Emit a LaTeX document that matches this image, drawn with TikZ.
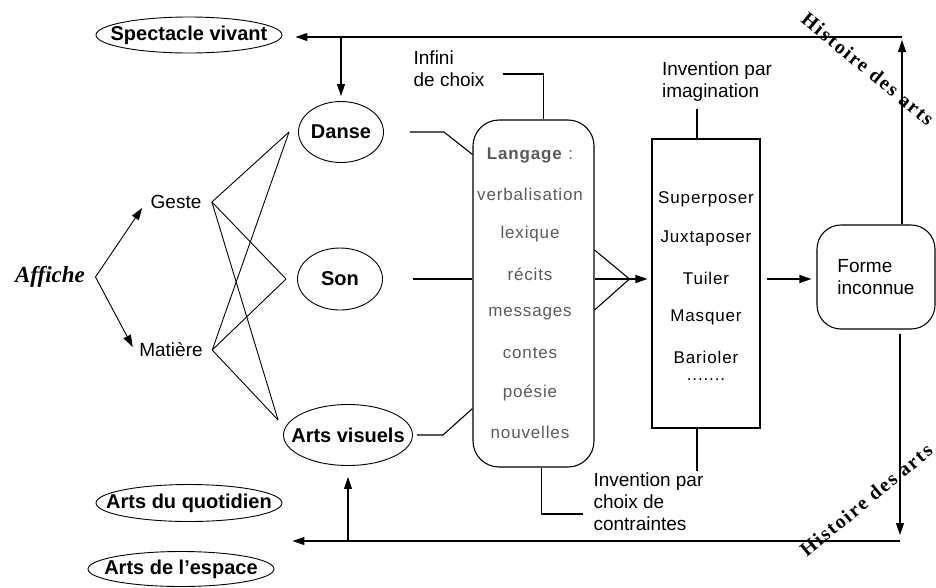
\documentclass[tikz,border=0pt]{standalone}
\usepackage{fontspec}
\setmainfont{Liberation Sans}
\newfontfamily\serifbi{Liberation Serif}
\newfontfamily\spaced[LetterSpace=5]{Liberation Sans}
\newfontfamily\histfont[LetterSpace=9]{Liberation Serif}
\usetikzlibrary{shapes.geometric,arrows.meta}
\definecolor{txtgray}{RGB}{90,90,90}

\begin{document}
\begin{tikzpicture}[x=1pt, y=-1pt, line width=1.1pt,
    arr/.style={-{Triangle[length=12pt,width=8pt]}},
    bubble/.style={draw, ellipse, line width=0.9pt, inner sep=0pt, font=\bfseries\fontsize{20}{22}\selectfont},
    plain/.style={inner sep=0pt, font=\fontsize{19}{22}\selectfont},
    item/.style={inner sep=0pt, font=\spaced\fontsize{17}{20}\selectfont},
    hist/.style={inner sep=0pt, font=\histfont\bfseries\fontsize{20}{22}\selectfont}]
        \useasboundingbox (0,0) rectangle (936,587);

        % Define coordinates
        \coordinate (tr) at (902,37);
        \coordinate (br) at (900,541);

        % Domains
        \node[bubble, minimum width=186pt, minimum height=36pt] (spect) at (189,35) {\makebox[0pt]{Spectacle vivant}};
        \node[bubble, minimum width=85pt, minimum height=61pt] (danse) at (341,132) {\makebox[0pt]{Danse}};
        \node[bubble, minimum width=85pt, minimum height=62pt] (son) at (340,279) {\makebox[0pt]{Son}};
        \node[bubble, minimum width=129pt, minimum height=61pt] (visu) at (348,435) {\makebox[0pt]{Arts visuels}};
        \node[bubble, minimum width=186pt, minimum height=37pt] (quot) at (189,503) {\makebox[0pt]{Arts du quotidien}};
        \node[bubble, minimum width=186pt, minimum height=35pt] (esp) at (181,569) {\makebox[0pt]{Arts de l'espace}};

        % Affiche, Geste, Matiere
        \node[inner sep=0pt, font=\serifbi\bfseries\itshape\fontsize{23}{26}\selectfont] (affiche) at (50,277) {Affiche};
        \node[plain] (geste) at (176,202) {Geste};
        \node[plain] (mat) at (171,350) {Matière};

        % Langage box
        \node[draw, rounded corners=26pt, minimum width=121pt, minimum height=347pt] (lang) at (533.5,293.5) {};
        \node[item, text=txtgray] (l0) at (530,155) {\textbf{Langage} :};
        \foreach \w [count=\i] in {verbalisation, lexique, récits, messages, contes, poésie, nouvelles}
            \node[item, text=txtgray] (l\i) at (530,155+39.7*\i) {\w};

        % Operations box
        \node[draw, minimum width=108pt, minimum height=289pt, inner sep=0pt] (sup) at (706,283.5) {};
        \foreach \w [count=\i] in {Superposer, Juxtaposer, Tuiler, Masquer, Barioler}
            \node[item] (s\i) at (706,159.5+39.5*\i) {\w};
        \node[item] (s6) at (706,380) {.......};

        % Result
        \node[draw, rounded corners=24pt, minimum width=118pt, minimum height=104pt, plain, align=left] (forme) at (876,277) {Forme\\inconnue};

        % Side labels
        \node[plain, align=left] (infini) at (449,69) {Infini\\de choix};
        \node[plain, align=left] (imag) at (717,82) {Invention par\\imagination};
        \node[plain, align=left, anchor=west] (contr) at (593,502) {Invention par\\choix de\\contraintes};
        \node[hist, rotate=-39.5] (hist1) at (868,69) {Histoire des arts};
        \node[hist, rotate=39.5] (hist2) at (866,500) {Histoire des arts};

        % Loop of the history of arts
        \draw[arr, shorten >=13pt] (tr) -- (tr -| spect.east);
        \draw[arr, shorten >=5pt] (danse.north |- tr) -- (danse.north);
        \draw[arr, shorten >=3pt] (forme.north -| tr) -- (tr);
        \draw[arr, shorten <=4pt, shorten >=6pt] (forme.south -| br) -- (br);
        \draw[arr, shorten >=10pt] (br) -- (br -| quot.east);
        \draw[arr, shorten >=11pt] (visu.south |- br) -- (visu.south);

        % Affiche to Geste and Matiere
        \coordinate (fork) at ([xshift=10pt]affiche.east);
        \draw[arr, line width=0.9pt] (fork) -- ([shift={(-8,6)}]geste.west);
        \draw[arr, line width=0.9pt] (fork) -- ([shift={(-6,-3)}]mat.west);

        % Fan to the domains
        \coordinate (g-out) at ([xshift=10pt]geste.east);
        \coordinate (m-out) at ([xshift=9pt]mat.east);
        \coordinate (d-in) at ([xshift=-9pt]danse.west);
        \coordinate (s-in) at ([xshift=-11pt]son.west);
        \coordinate (v-in) at ([shift={(-5,-15)}]visu.west);
        \foreach \a in {g-out, m-out}
            \foreach \b in {d-in, s-in, v-in}
                \draw[line width=0.9pt] (\a) -- (\b);

        % Domains to Langage
        \draw ([xshift=26pt]danse.east) -- ++(34,0) -- ([shift={(0,35)}]lang.north west);
        \draw ([xshift=30pt]son.east) -- (son.east -| lang.west);
        \draw ([xshift=4pt]visu.east) -- ++(26,0) -- ([shift={(0,-59)}]lang.south west);
        \draw ([shift={(18,5)}]infini.east) -| ([xshift=10pt]lang.north);
        \draw ([xshift=8pt]lang.south) |- ([shift={(-10,12)}]contr.west);

        % Langage to operations to result
        \coordinate (lr) at (son -| lang.east);
        \coordinate (conv) at (son -| sup.west);
        \draw ([shift={(0,-29)}]lr) -- ([xshift=-22pt]conv) -- ([shift={(0,31)}]lr);
        \draw[arr, shorten >=4pt] (lr) -- (conv);
        \draw[arr, shorten <=6pt, shorten >=5pt] (son -| sup.east) -- (son -| forme.west);
        \draw ([xshift=-9pt]sup.north) -- ++(0,-29);
        \draw ([xshift=-9pt]sup.south) -- ++(0,42);
    \end{tikzpicture}
\end{document}
